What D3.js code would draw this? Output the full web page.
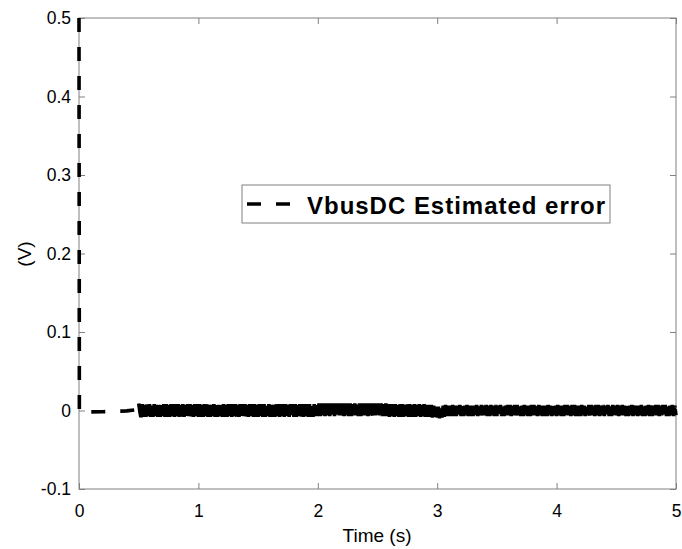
<!DOCTYPE html>
<html>
<head>
<meta charset="utf-8">
<script src="https://cdn.jsdelivr.net/npm/d3@7"></script>
<style>
  html, body { margin: 0; padding: 0; background: #fff; }
  svg { display: block; }
  text { font-family: "Liberation Sans", Arial, Helvetica, sans-serif; }
</style>
</head>
<body>
<svg id="chart" width="682" height="549"></svg>
<script>
// ---- Data ----
const xTicks = [0, 1, 2, 3, 4, 5];
const yTicks = [-0.1, 0, 0.1, 0.2, 0.3, 0.4, 0.5];
const yTickLabels = ["-0.1", "0", "0.1", "0.2", "0.3", "0.4", "0.5"];
const seriesName = "VbusDC Estimated error";

// initial transient (time s, error V)
const startTimes = [0, 0.003, 0.2, 0.4, 0.48];
const startValues = [0.5, -0.002, -0.0015, -0.0005, 0.001];

// steady-state noisy error, sampled every 0.01 s from 0.50 s to 5.00 s (values in mV)
const noiseStart = 0.5;
const noiseStep = 0.01;
const noise_mV = [
  9,-2,-10,8,-8,7,-8,8,-7,8,
  -8,7,-8,8,-7,8,-8,7,-8,8,
  -7,8,-8,8,-8,7,-8,8,-7,8,
  -8,8,-7,8,-8,7,-8,8,-8,7,
  -8,8,-7,8,-8,7,-8,8,-7,8,
  -8,8,-8,7,-8,8,-7,8,-8,7,
  -8,8,-7,8,-8,8,-8,7,-7,8,
  -8,8,-8,7,-8,8,-7,8,-8,8,
  -7,8,-8,7,-8,8,-8,8,-7,8,
  -8,7,-8,8,-7,8,-8,8,-8,7,
  -8,8,-7,8,-8,8,-8,7,-7,8,
  -8,8,-8,7,-8,8,-7,8,-8,8,
  -7,8,-8,8,-8,7,-8,8,-7,8,
  -8,8,-8,7,-7,8,-8,8,-8,8,
  -7,8,-8,8,-8,7,-8,8,-7,8,
  -7,9,-7,9,-6,9,-7,9,-6,9,
  -7,9,-6,9,-7,9,-6,9,-6,9,
  -7,9,-7,9,-6,9,-7,9,-7,9,
  -6,9,-6,9,-7,9,-7,9,-6,9,
  -6,9,-7,9,-6,9,-7,9,-6,9,
  -7,9,-6,9,-7,8,-7,9,-7,8,
  -8,8,-7,8,-8,8,-7,8,-8,8,
  -8,8,-8,7,-7,8,-8,8,-8,7,
  -8,8,-8,7,-8,8,-8,7,-8,8,
  -8,7,-8,7,-8,7,-9,6,-8,5,
  -9,5,-10,4,-9,6,-8,7,-7,6,
  -7,6,-7,7,-7,6,-7,6,-6,7,
  -7,7,-7,6,-6,7,-7,6,-7,6,
  -7,6,-6,7,-7,6,-6,7,-7,6,
  -6,7,-7,6,-7,7,-6,6,-7,7,
  -7,6,-6,7,-7,6,-7,6,-6,7,
  -6,7,-7,6,-6,7,-7,7,-6,6,
  -7,6,-7,7,-6,6,-7,6,-7,7,
  -6,7,-6,6,-7,7,-6,6,-7,6,
  -7,6,-7,7,-6,6,-7,7,-6,6,
  -7,7,-6,6,-7,6,-7,7,-6,7,
  -6,6,-7,7,-6,7,-7,6,-7,6,
  -7,7,-6,6,-7,6,-6,7,-7,7,
  -6,6,-7,7,-6,7,-7,6,-6,7,
  -7,6,-6,7,-7,6,-7,7,-6,6,
  -6,7,-7,6,-6,7,-7,6,-7,7,
  -7,6,-6,7,-7,7,-6,6,-7,6,
  -6,7,-7,6,-7,6,-6,7,-7,7,
  -7,6,-6,7,-6,7,-7,6,-6,7,
  -6,7,-7,6,-7,6,-6,7,-7,6,
  -6
];

// ---- Build series ----
const transient = startTimes.map((t, i) => ({ t, v: startValues[i] }));
const noisy = noise_mV.map((mv, i) => ({ t: noiseStart + i * noiseStep, v: mv / 1000 }));

// ---- Layout ----
const svg = d3.select("#chart");
const L = 79, R = 676, T = 18, B = 489;
const x = d3.scaleLinear().domain([0, 5]).range([L, R]);
const y = d3.scaleLinear().domain([-0.1, 0.5]).range([B, T]);
const axisColor = "#808080";
const tickLen = 6;
const fontFam = '"Liberation Sans", Arial, Helvetica, sans-serif';

function styleAxis(g) {
  g.select(".domain").remove();
  g.selectAll(".tick line").attr("stroke", axisColor).attr("stroke-width", 1);
  g.selectAll(".tick text").attr("fill", "#000").style("font-size", "17.5px").style("font-family", fontFam);
}

const gx = svg.append("g").attr("transform", `translate(0,${B})`)
  .call(d3.axisBottom(x).tickValues(xTicks).tickFormat(d => String(d))
    .tickSizeInner(-tickLen).tickSizeOuter(0).tickPadding(16));
styleAxis(gx);
gx.selectAll(".tick text").attr("dy", "0.71em");

const gxTop = svg.append("g").attr("transform", `translate(0,${T})`)
  .call(d3.axisTop(x).tickValues(xTicks).tickFormat("").tickSizeInner(-tickLen).tickSizeOuter(0));
styleAxis(gxTop);

const gy = svg.append("g").attr("transform", `translate(${L},0)`)
  .call(d3.axisLeft(y).tickValues(yTicks).tickFormat((d, i) => yTickLabels[i])
    .tickSizeInner(-tickLen).tickSizeOuter(0).tickPadding(8));
styleAxis(gy);

const gyR = svg.append("g").attr("transform", `translate(${R},0)`)
  .call(d3.axisRight(y).tickValues(yTicks).tickFormat("").tickSizeInner(-tickLen).tickSizeOuter(0));
styleAxis(gyR);

svg.append("rect").attr("x", L).attr("y", T).attr("width", R - L).attr("height", B - T)
  .attr("fill", "none").attr("stroke", axisColor).attr("stroke-width", 1);

// data line: dashed transient, dense noisy part renders as a near-solid dashed band
const line = d3.line().x(d => x(d.t)).y(d => y(d.v));
svg.append("path").datum(transient.concat([noisy[0]]))
  .attr("d", line)
  .attr("fill", "none")
  .attr("stroke", "#000")
  .attr("stroke-width", 3.6)
  .attr("stroke-dasharray", "14 15");
svg.append("path").datum(noisy)
  .attr("d", line)
  .attr("fill", "none")
  .attr("stroke", "#000")
  .attr("stroke-width", 3.6)
  .attr("stroke-dasharray", "14 2");

// axis labels
svg.append("text").attr("x", 377).attr("y", 542)
  .attr("text-anchor", "middle").style("font-size", "19px").attr("fill", "#000").text("Time (s)");
svg.append("text").attr("transform", `translate(31,254) rotate(-90)`)
  .attr("text-anchor", "middle").style("font-size", "19px").attr("fill", "#000").text("(V)");

// legend
const lg = svg.append("g");
lg.append("rect").attr("x", 242).attr("y", 185).attr("width", 368).attr("height", 38)
  .attr("fill", "#fff").attr("stroke", axisColor).attr("stroke-width", 1);
lg.append("line").attr("x1", 247).attr("x2", 291).attr("y1", 204).attr("y2", 204)
  .attr("stroke", "#000").attr("stroke-width", 3.6).attr("stroke-dasharray", "14 15");
lg.append("text").attr("x", 307).attr("y", 214)
  .attr("textLength", 298).attr("lengthAdjust", "spacing")
  .style("font-size", "24px").style("font-weight", "bold").attr("fill", "#000").text(seriesName);
</script>
</body>
</html>
